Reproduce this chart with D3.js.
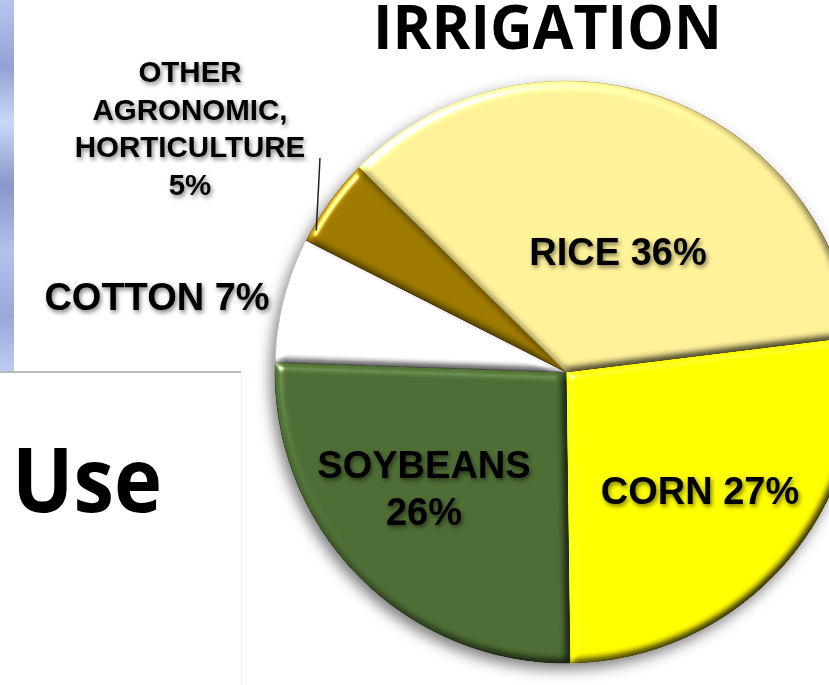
<!DOCTYPE html>
<html>
<head>
<meta charset="utf-8">
<script src="https://cdn.jsdelivr.net/npm/d3@7/dist/d3.min.js"></script>
<style>
  body { margin: 0; background: #fff; }
  svg { display: block; }
</style>
</head>
<body>
<div id="chart"></div>
<script>
// slice order runs clockwise starting from the rice/corn boundary
const crops = ["CORN", "SOYBEANS", "COTTON", "OTHER", "RICE"];
const shares = [27, 26, 7, 5, 36];
const labelLines = [
    ["CORN 27%"],
    ["SOYBEANS", "26%"],
    ["COTTON 7%"],
    ["OTHER", "AGRONOMIC,", "HORTICULTURE", "5%"],
    ["RICE 36%"]
];
const sliceColors = ["#fff700", "#4b6932", "#ffffff", "#987500", "#f7e993"];
const edgeColors = ["#cfc600", "#364d23", "#c4c4c4", "#735800", "#d4c56c"];

const width = 829, height = 685;
const cx = 566, cy = 372, radius = 291;

const svg = d3.select("#chart").append("svg")
    .attr("width", width)
    .attr("height", height);

const defs = svg.append("defs");

// bluish strip at the far left
const strip = defs.append("linearGradient").attr("id", "strip")
    .attr("x1", 0).attr("y1", 0).attr("x2", 0).attr("y2", 1);
[["0", "#b6c6f0"], ["0.18", "#95a1d6"], ["0.33", "#c9d8f8"], ["0.5", "#8a96ca"],
 ["0.68", "#b2c2ee"], ["0.85", "#9aa7da"], ["1", "#bccbf4"]].forEach(s => {
    strip.append("stop").attr("offset", s[0]).attr("stop-color", s[1]);
});

// bevel look for each slice
const bevel = defs.append("filter").attr("id", "bevel")
    .attr("color-interpolation-filters", "sRGB")
    .attr("x", "-5%").attr("y", "-5%").attr("width", "110%").attr("height", "110%");
bevel.append("feGaussianBlur").attr("in", "SourceAlpha").attr("stdDeviation", 4).attr("result", "blur");
bevel.append("feDiffuseLighting").attr("in", "blur").attr("surfaceScale", 5)
    .attr("diffuseConstant", 1).attr("lighting-color", "#fff").attr("result", "diff")
    .append("feDistantLight").attr("azimuth", 225).attr("elevation", 55);
bevel.append("feComposite").attr("in", "diff").attr("in2", "SourceGraphic")
    .attr("operator", "arithmetic").attr("k1", 1.26).attr("k2", 0).attr("k3", 0).attr("k4", 0)
    .attr("result", "lit");
bevel.append("feSpecularLighting").attr("in", "blur").attr("surfaceScale", 5)
    .attr("specularConstant", 0.8).attr("specularExponent", 45).attr("lighting-color", "#fff")
    .attr("result", "spec")
    .append("feDistantLight").attr("azimuth", 225).attr("elevation", 40);
bevel.append("feComposite").attr("in", "spec").attr("in2", "SourceAlpha")
    .attr("operator", "in").attr("result", "specIn");
bevel.append("feComposite").attr("in", "lit").attr("in2", "specIn")
    .attr("operator", "arithmetic").attr("k1", 0).attr("k2", 1).attr("k3", 1).attr("k4", 0)
    .attr("result", "sum");
bevel.append("feComposite").attr("in", "sum").attr("in2", "SourceAlpha").attr("operator", "in");

// soft shadow under the whole pie
const pieShadow = defs.append("filter").attr("id", "pieShadow")
    .attr("x", "-10%").attr("y", "-10%").attr("width", "120%").attr("height", "125%");
pieShadow.append("feDropShadow").attr("dx", -4).attr("dy", 6).attr("stdDeviation", 7)
    .attr("flood-color", "#000").attr("flood-opacity", 0.5);

// blurry shadow behind the labels
const textShadow = defs.append("filter").attr("id", "textShadow")
    .attr("x", "-10%").attr("y", "-30%").attr("width", "120%").attr("height", "160%");
textShadow.append("feDropShadow").attr("dx", 1.5).attr("dy", 2.5).attr("stdDeviation", 2)
    .attr("flood-color", "#000").attr("flood-opacity", 0.5);

// backdrop panels
svg.append("rect").attr("x", 0).attr("y", 0).attr("width", 14).attr("height", 371)
    .attr("fill", "url(#strip)");
svg.append("line").attr("x1", 0).attr("x2", 241).attr("y1", 372).attr("y2", 372)
    .attr("stroke", "#b8b8b8").attr("stroke-width", 2);
svg.append("line").attr("x1", 241.5).attr("x2", 241.5).attr("y1", 373).attr("y2", height)
    .attr("stroke", "#f1f1f1").attr("stroke-width", 1);

// headings
svg.append("text")
    .attr("x", 373).attr("y", 49)
    .attr("font-family", "'Open Sans', sans-serif")
    .attr("font-weight", 700)
    .attr("font-size", 60)
    .attr("textLength", 349)
    .attr("lengthAdjust", "spacingAndGlyphs")
    .attr("fill", "#000")
    .text("IRRIGATION");

svg.append("text")
    .attr("x", 12).attr("y", 512)
    .attr("font-family", "'Open Sans', sans-serif")
    .attr("font-weight", 700)
    .attr("font-size", 90)
    .attr("textLength", 150)
    .attr("lengthAdjust", "spacingAndGlyphs")
    .attr("fill", "#000")
    .text("Use");

// pie
const data = crops.map((c, i) => ({ crop: c, share: shares[i], lines: labelLines[i], i }));
const start = 83 * Math.PI / 180;
const pie = d3.pie()
    .sort(null)
    .value(d => d.share)
    .startAngle(start)
    .endAngle(start + 2 * Math.PI);
const arcs = pie(data);

const arc = d3.arc().innerRadius(0).outerRadius(radius);

const pieGroup = svg.append("g")
    .attr("transform", `translate(${cx},${cy})`)
    .attr("filter", "url(#pieShadow)");

pieGroup.selectAll("path.slice")
    .data(arcs)
    .enter()
    .append("path")
    .attr("class", "slice")
    .attr("d", arc)
    .attr("fill", d => sliceColors[d.data.i])
    .attr("stroke", d => edgeColors[d.data.i])
    .attr("stroke-width", 1)
    .attr("filter", "url(#bevel)");

// label placement, relative to the pie centre
const labelSpots = {
    CORN: { x: 134, y: 132 },
    SOYBEANS: { x: -142, y: 106 },
    COTTON: { x: -409, y: -62 },
    OTHER: { x: -376, y: -290 },
    RICE: { x: 52, y: -107 }
};
const lineGap = { OTHER: 37.7, SOYBEANS: 47 };
const labelSize = { OTHER: 29.5 };

const labels = svg.append("g")
    .attr("transform", `translate(${cx},${cy})`);

labels.selectAll("text")
    .data(arcs)
    .enter()
    .append("text")
    .attr("text-anchor", "middle")
    .attr("font-family", "'Liberation Sans', Arial, sans-serif")
    .attr("font-weight", 700)
    .attr("font-size", d => labelSize[d.data.crop] || 38)
    .attr("fill", "#000")
    .attr("filter", "url(#textShadow)")
    .each(function (d) {
        const spot = labelSpots[d.data.crop];
        const gap = lineGap[d.data.crop] || 40;
        d3.select(this).selectAll("tspan")
            .data(d.data.lines)
            .enter()
            .append("tspan")
            .attr("x", spot.x)
            .attr("y", (t, k) => spot.y + k * gap)
            .text(t => t);
    });

// leader line for the small slice, dropping from the end of HORTICULTURE
const other = arcs.find(d => d.data.crop === "OTHER");
const edgeArc = d3.arc().innerRadius(radius - 4).outerRadius(radius - 4);
const edgePt = edgeArc.centroid({ ...other, startAngle: other.startAngle, endAngle: other.startAngle + (other.endAngle - other.startAngle) * 0.3 });
labels.append("line")
    .attr("x1", labelSpots.OTHER.x + 130)
    .attr("y1", labelSpots.OTHER.y + 76)
    .attr("x2", edgePt[0])
    .attr("y2", edgePt[1])
    .attr("stroke", "#222")
    .attr("stroke-width", 1.5);
</script>
</body>
</html>
